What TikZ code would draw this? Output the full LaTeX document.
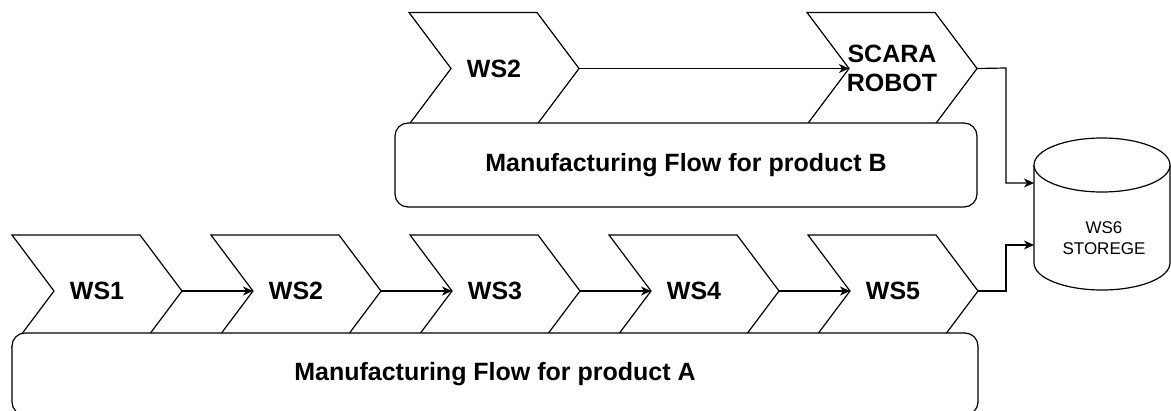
\documentclass[tikz,border=0pt]{standalone}
\usepackage{fontspec}
\setmainfont{Liberation Sans}
\usetikzlibrary{arrows.meta}
\tikzset{
  ln/.style={draw=black, line width=1.2pt},
  chevlabel/.style={font=\fontsize{25}{29}\selectfont\bfseries, align=center, inner sep=0pt},
  flowbox/.style={ln, fill=white, rounded corners=13pt, inner sep=0pt,
    font=\fontsize{25}{30}\selectfont\bfseries},
  flowarrow/.style={ln, -{Stealth[length=10pt,width=9pt,inset=3pt]}},
  storelabel/.style={font=\fontsize{17}{20.4}\selectfont, align=center, inner sep=0pt}
}
% #1 name, #2 left x, #3 top y, #4 label
\newcommand{\mychev}[4]{%
  \draw[ln, fill=white] (#2,#3) -- ++(128,0) -- ++(42,56) -- ++(-42,56) -- ++(-128,0) -- ++(42,-56) -- cycle;
  \coordinate (#1-in) at ({#2+42},{#3+56});
  \coordinate (#1-tip) at ({#2+170},{#3+56});
  \node[chevlabel] (#1) at ({#2+85},{#3+56}) {#4};
}
\begin{document}
\begin{tikzpicture}[x=1pt,y=-1pt]
\useasboundingbox (0,0) rectangle (1171,410);
% bottom row
\mychev{wsa}{12}{235}{WS1}
\mychev{wsb}{211}{235}{WS2}
\mychev{wsc}{410}{235}{WS3}
\mychev{wsd}{609}{235}{WS4}
\mychev{wse}{808}{235}{WS5}
% top row
\mychev{wtb}{409}{12.5}{WS2}
\mychev{scara}{807}{12.5}{SCARA\\ROBOT}
% boxes
\node[flowbox, minimum width=966pt, minimum height=82pt] (flowA) at (495,374) {Manufacturing Flow for product A};
\node[flowbox, minimum width=582pt, minimum height=84pt] (flowB) at (686,165) {Manufacturing Flow for product B};
% cylinder
\fill[white] (1034,165) -- (1034,263) arc[start angle=180, end angle=360, x radius=68pt, y radius=27pt] -- (1170,165) -- cycle;
\draw[ln] (1034,165) -- (1034,263) arc[start angle=180, end angle=360, x radius=68pt, y radius=27pt] -- (1170,165);
\draw[ln, fill=white] (1102,165) ellipse [x radius=68pt, y radius=27pt];
\node[storelabel] (ws6) at (1104,238) {WS6\\STOREGE};
\coordinate (ws6-in1) at (1034,183);
\coordinate (ws6-in2) at (1034,245);
% arrows
\draw[flowarrow] (wsa-tip) -- (wsb-in);
\draw[flowarrow] (wsb-tip) -- (wsc-in);
\draw[flowarrow] (wsc-tip) -- (wsd-in);
\draw[flowarrow] (wsd-tip) -- (wse-in);
\draw[flowarrow] (wtb-tip) -- (scara-in);
\draw[flowarrow] (scara-tip) -- (1006,68) |- (ws6-in1);
\draw[flowarrow] (wse-tip) -- (1006,291) |- (ws6-in2);
\end{tikzpicture}
\end{document}
